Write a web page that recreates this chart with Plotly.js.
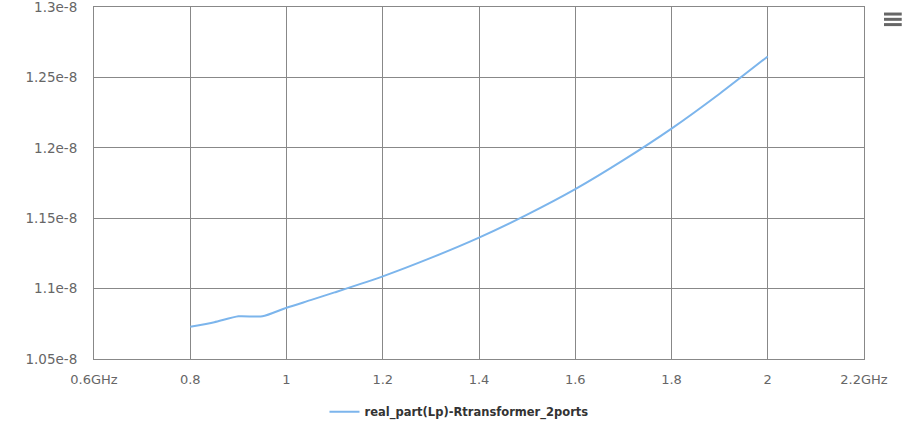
<!DOCTYPE html>
<html>
<head>
<meta charset="utf-8">
<script src="https://cdn.plot.ly/plotly-3.0.1.min.js"></script>
<style>
html,body{margin:0;padding:0;background:#fff;}
#chart{width:915px;height:442px;}
</style>
</head>
<body>
<div id="chart"></div>
<script>
var seriesName = "real_part(Lp)-Rtransformer_2ports";
var freqGHz = [0.8, 0.85, 0.9, 0.95, 1.0, 1.05, 1.1, 1.2, 1.3, 1.4, 1.5, 1.6, 1.7, 1.8, 1.9, 2.0];
var lpValues = [1.0729e-8, 1.0761e-8, 1.0803e-8, 1.0803e-8, 1.0864e-8, 1.0918e-8, 1.0973e-8, 1.1087e-8, 1.1218e-8, 1.1362e-8, 1.1525e-8, 1.1706e-8, 1.1912e-8, 1.2136e-8, 1.2384e-8, 1.2649e-8];
var xTickVals = [0.6, 0.8, 1.0, 1.2, 1.4, 1.6, 1.8, 2.0, 2.2];
var xTickText = ["0.6GHz", "0.8", "1", "1.2", "1.4", "1.6", "1.8", "2", "2.2GHz"];
var yTickVals = [1.05e-8, 1.1e-8, 1.15e-8, 1.2e-8, 1.25e-8, 1.3e-8];
var yTickText = ["1.05e-8", "1.1e-8", "1.15e-8", "1.2e-8", "1.25e-8", "1.3e-8"];

var trace = {
  x: freqGHz,
  y: lpValues,
  type: "scatter",
  mode: "lines",
  name: seriesName,
  line: {color: "#7cb5ec", width: 2, shape: "spline", smoothing: 0.6}
};

var fontFam = "DejaVu Sans, sans-serif";
var layout = {
  width: 915,
  height: 442,
  margin: {l: 94, r: 51, t: 7, b: 83},
  paper_bgcolor: "#ffffff",
  plot_bgcolor: "#ffffff",
  showlegend: true,
  legend: {
    orientation: "h",
    x: 0.474, xanchor: "center",
    y: -0.15, yanchor: "middle",
    itemwidth: 30,
    font: {family: fontFam, size: 11.5, color: "#333333", weight: "bold"}
  },
  xaxis: {
    range: [0.6, 2.2],
    tickvals: xTickVals,
    ticktext: xTickText,
    showgrid: true,
    gridcolor: "#888888",
    gridwidth: 1,
    showline: true,
    linecolor: "#888888",
    linewidth: 1,
    mirror: true,
    zeroline: false,
    ticks: "",
    ticklabelstandoff: 8,
    ticklabeloverflow: "allow",
    tickfont: {family: fontFam, size: 13, color: "#666666"}
  },
  yaxis: {
    range: [1.05e-8, 1.3e-8],
    tickvals: yTickVals,
    ticktext: yTickText,
    showgrid: true,
    gridcolor: "#888888",
    gridwidth: 1,
    showline: true,
    linecolor: "#888888",
    linewidth: 1,
    mirror: true,
    zeroline: false,
    ticks: "",
    ticklabelstandoff: 13,
    ticklabeloverflow: "allow",
    tickfont: {family: fontFam, size: 13.5, color: "#666666"}
  },
  shapes: [
    {type: "line", xref: "paper", yref: "paper", x0: 1.026, x1: 1.049, y0: 0.980, y1: 0.980, line: {color: "#666666", width: 3}},
    {type: "line", xref: "paper", yref: "paper", x0: 1.026, x1: 1.049, y0: 0.965, y1: 0.965, line: {color: "#666666", width: 3}},
    {type: "line", xref: "paper", yref: "paper", x0: 1.026, x1: 1.049, y0: 0.950, y1: 0.950, line: {color: "#666666", width: 3}}
  ]
};

Plotly.newPlot("chart", [trace], layout, {displayModeBar: false});
</script>
</body>
</html>
